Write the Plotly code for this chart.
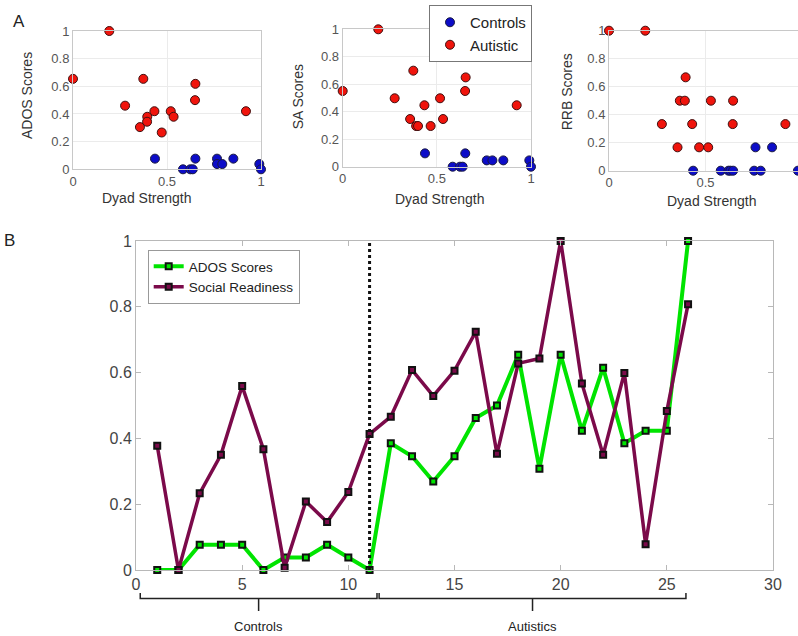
import plotly.graph_objects as go

W, H = 798, 636

# ---------------- data: panel A ----------------
# ADOS vs Dyad Strength
ados_aut_x = [0.193, 0.0, 0.374, 0.651, 0.649, 0.277, 0.433, 0.52, 0.535, 0.395, 0.394, 0.356, 0.472, 0.92]
ados_aut_y = [1.0, 0.654, 0.654, 0.618, 0.5, 0.46, 0.42, 0.42, 0.38, 0.38, 0.344, 0.305, 0.266, 0.42]
ados_ctl_x = [0.436, 0.585, 0.624, 0.637, 0.651, 0.766, 0.766, 0.794, 0.853, 0.991, 1.0]
ados_ctl_y = [0.077, 0.0, 0.0, 0.0, 0.077, 0.077, 0.038, 0.038, 0.077, 0.038, 0.0]

# SA vs Dyad Strength
sa_aut_x = [0.189, 0.0, 0.375, 0.653, 0.65, 0.276, 0.517, 0.434, 0.924, 0.358, 0.533, 0.39, 0.40, 0.467]
sa_aut_y = [1.0, 0.551, 0.699, 0.65, 0.551, 0.498, 0.498, 0.447, 0.447, 0.347, 0.347, 0.296, 0.296, 0.296]
sa_ctl_x = [0.437, 0.584, 0.623, 0.637, 0.651, 0.765, 0.795, 0.853, 0.991, 1.0]
sa_ctl_y = [0.097, 0.0, 0.0, 0.0, 0.097, 0.046, 0.046, 0.046, 0.046, 0.0]

# RRB vs Dyad Strength
rrb_aut_x = [0.0, 0.188, 0.397, 0.367, 0.393, 0.528, 0.643, 0.274, 0.431, 0.641, 0.914, 0.355, 0.467, 0.514]
rrb_aut_y = [1.0, 1.0, 0.667, 0.5, 0.5, 0.5, 0.5, 0.333, 0.333, 0.333, 0.333, 0.167, 0.167, 0.167]
rrb_ctl_x = [0.436, 0.579, 0.619, 0.629, 0.643, 0.759, 0.845, 0.752, 0.786, 0.979]
rrb_ctl_y = [0.0, 0.0, 0.0, 0.0, 0.0, 0.167, 0.167, 0.0, 0.0, 0.0]

# ---------------- data: panel B ----------------
subjects = list(range(1, 27))
n_controls = 11
ados_scores = [0, 0, 0.077, 0.077, 0.077, 0, 0.038, 0.038, 0.077, 0.038, 0,
               0.385, 0.346, 0.269, 0.346, 0.462, 0.5, 0.654, 0.308, 0.654,
               0.423, 0.615, 0.385, 0.423, 0.423, 1.0]
social_readiness = [0.378, 0, 0.233, 0.35, 0.559, 0.367, 0.007, 0.208, 0.146, 0.237, 0.413,
                    0.466, 0.608, 0.529, 0.606, 0.724, 0.353, 0.628, 0.643, 1.0,
                    0.567, 0.35, 0.599, 0.078, 0.483, 0.808]

group_labels = ["Controls", "Autistics"]
bracket_spans = [(0.2, 11.35), (11.45, 25.9)]

# ---------------- styling ----------------
RED = "#f0140c"
BLUE = "#0c0cc8"
GREEN = "#00e400"
PURPLE = "#7b0a4a"

def fx(p):
    return p / W

def fy(p):
    return 1 - p / H

fig = go.Figure()

panels = [
    ("x", "y", ados_ctl_x, ados_ctl_y, ados_aut_x, ados_aut_y, True),
    ("x2", "y2", sa_ctl_x, sa_ctl_y, sa_aut_x, sa_aut_y, False),
    ("x3", "y3", rrb_ctl_x, rrb_ctl_y, rrb_aut_x, rrb_aut_y, False),
]
for xa, ya, cx, cy, ax, ay, show in panels:
    fig.add_trace(go.Scatter(x=cx, y=cy, mode="markers", name="Controls",
                             xaxis=xa, yaxis=ya, showlegend=show, legend="legend",
                             marker=dict(size=9, color=BLUE, line=dict(color="#1a1a40", width=1)),
                             cliponaxis=False))
    fig.add_trace(go.Scatter(x=ax, y=ay, mode="markers", name="Autistic",
                             xaxis=xa, yaxis=ya, showlegend=show, legend="legend",
                             marker=dict(size=9, color=RED, line=dict(color="#401010", width=1)),
                             cliponaxis=False))

fig.add_trace(go.Scatter(x=subjects, y=ados_scores, mode="lines+markers", name="ADOS Scores",
                         xaxis="x4", yaxis="y4", legend="legend2",
                         line=dict(color=GREEN, width=4),
                         marker=dict(symbol="square", size=6, color=GREEN, line=dict(color="#111", width=2)),
                         cliponaxis=False))
fig.add_trace(go.Scatter(x=subjects, y=social_readiness, mode="lines+markers", name="Social Readiness",
                         xaxis="x4", yaxis="y4", legend="legend2",
                         line=dict(color=PURPLE, width=3.5),
                         marker=dict(symbol="square", size=6, color=PURPLE, line=dict(color="#111", width=2)),
                         cliponaxis=False))

small_axis = dict(showgrid=True, gridcolor="#ebebeb", showline=True, linecolor="#c8c8c8",
                  mirror=True, zeroline=False, ticks="", automargin=False,
                  tickfont=dict(family="Liberation Sans, Arial", size=13, color="#555"))

# panel A axes
fig.update_layout(
    xaxis=dict(domain=[fx(73), fx(261)], range=[0, 1], tickvals=[0, 0.5, 1], anchor="y", **small_axis),
    yaxis=dict(domain=[fy(169.3), fy(31)], range=[0, 1], dtick=0.2, anchor="x", **small_axis),
    xaxis2=dict(domain=[fx(342.7), fx(531)], range=[0, 1], tickvals=[0, 0.5, 1], anchor="y2", **small_axis),
    yaxis2=dict(domain=[fy(166.7), fy(29.3)], range=[0, 1], dtick=0.2, anchor="x2", **small_axis),
    xaxis3=dict(domain=[fx(609), 1], range=[0, (W - 609) / 193.0], tickvals=[0, 0.5, 1], anchor="y3", **small_axis),
    yaxis3=dict(domain=[fy(170.7), fy(30.7)], range=[0, 1], dtick=0.2, anchor="x3", **small_axis),
)

big_axis = dict(showgrid=False, showline=True, linecolor="#b8b8b8", linewidth=1, mirror="ticks",
                ticks="inside", ticklen=5, tickcolor="#b8b8b8", zeroline=False, automargin=False,
                tickfont=dict(family="Liberation Sans, Arial", size=16, color="#444"))
fig.update_layout(
    xaxis4=dict(domain=[fx(136), fx(773)], range=[0, 30], dtick=5, anchor="y4", **big_axis),
    yaxis4=dict(domain=[fy(570), fy(241)], range=[0, 1], dtick=0.2, anchor="x4", **big_axis),
)

# dotted separator
fig.add_shape(type="line", xref="x4", yref="y4", x0=n_controls, x1=n_controls, y0=0, y1=1,
              line=dict(color="#111", width=3, dash="dot"))

# brackets + labels
yb_top, yb_mid, yb_tick = fy(593), fy(598.5), fy(611)
for (x0, x1), lab in zip(bracket_spans, group_labels):
    xc = (x0 + x1) / 2
    fig.add_shape(type="path", xref="x4", yref="paper",
                  path=f"M {x0},{yb_top} L {x0},{yb_mid} L {x1},{yb_mid} L {x1},{yb_top} M {xc},{yb_mid} L {xc},{yb_tick}",
                  line=dict(color="#222", width=1.5))
    fig.add_annotation(x=xc, y=fy(626), xref="x4", yref="paper", text=lab, showarrow=False,
                       font=dict(family="Liberation Sans, Arial", size=13, color="#222"),
                       xanchor="center", yanchor="middle")

# axis titles for panel A
title_font = dict(family="Liberation Sans, Arial", size=14, color="#333")
for cx, cy in [(147, 198), (440, 199), (711.7, 201)]:
    fig.add_annotation(x=fx(cx), y=fy(cy), xref="paper", yref="paper", text="Dyad Strength",
                       showarrow=False, font=title_font, xanchor="center", yanchor="middle")
for (cx, cy), t in zip([(27, 96), (298.3, 97), (567.3, 92)], ["ADOS Scores", "SA Scores", "RRB Scores"]):
    fig.add_annotation(x=fx(cx), y=fy(cy), xref="paper", yref="paper", text=t, textangle=-90,
                       showarrow=False, font=title_font, xanchor="center", yanchor="middle")

# panel letters
for t, (cx, cy) in [("A", (19, 22)), ("B", (9, 240))]:
    fig.add_annotation(x=fx(cx), y=fy(cy), xref="paper", yref="paper", text=t, showarrow=False,
                       font=dict(family="Liberation Sans, Arial", size=17, color="#222"),
                       xanchor="center", yanchor="middle")

fig.update_layout(
    width=W, height=H,
    margin=dict(l=0, r=0, t=0, b=0),
    paper_bgcolor="white", plot_bgcolor="white",
    legend=dict(x=fx(429), y=fy(5), xanchor="left", yanchor="top",
                bgcolor="white", bordercolor="#777", borderwidth=1,
                font=dict(family="Liberation Sans, Arial", size=15, color="#222"),
                itemwidth=30, tracegroupgap=0),
    legend2=dict(x=fx(147.7), y=fy(250), xanchor="left", yanchor="top",
                 bgcolor="white", bordercolor="#999", borderwidth=1,
                 font=dict(family="Liberation Sans, Arial", size=13.5, color="#222"),
                 itemwidth=30, tracegroupgap=0),
    showlegend=True,
)

fig.write_html("out.html",
               config={"displayModeBar": False},
               post_script="document.body.style.margin='0px';document.body.style.overflow='hidden';")
